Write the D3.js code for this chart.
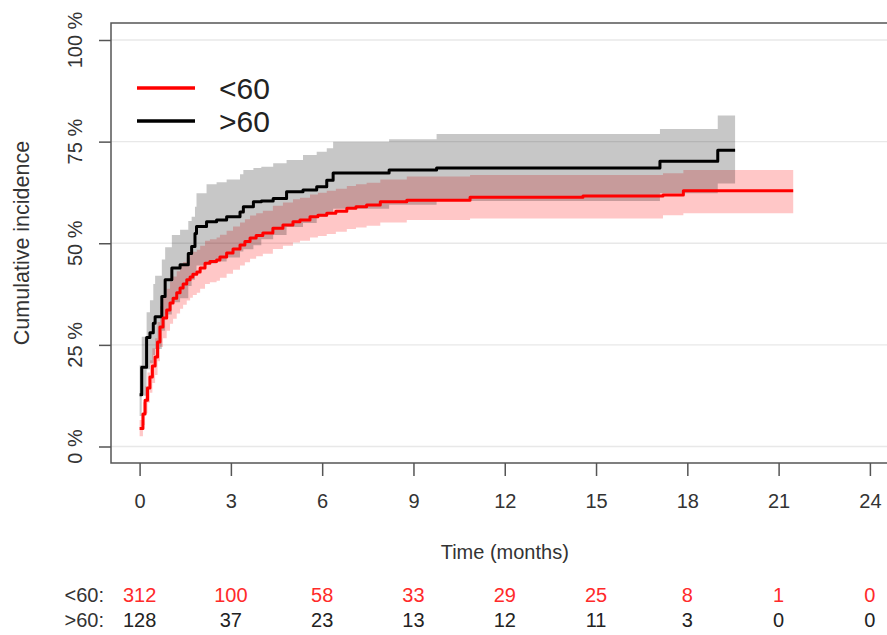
<!DOCTYPE html>
<html>
<head>
<meta charset="utf-8">
<script src="https://cdn.jsdelivr.net/npm/d3@7"></script>
<style>
  html, body { margin: 0; padding: 0; background: #fff; }
  svg { display: block; }
  text { font-family: "Liberation Sans", Arial, sans-serif; }
</style>
</head>
<body>
<svg id="chart" width="887" height="635"></svg>
<script>
// Cumulative incidence by age group, with 95% confidence bands (step functions)
const groups = ["<60", ">60"];
const groupColors = ["#ff0000", "#000000"];
const bandColors = ["rgba(255,0,0,0.22)", "rgba(0,0,0,0.22)"];

// <60 group: event times (months), estimate, lower and upper bound (%)
const youngTime  = [0, 0.11, 0.18, 0.26, 0.34, 0.42, 0.51, 0.59, 0.67, 0.77, 0.89, 1.0, 1.10, 1.22, 1.33, 1.43, 1.55, 1.66, 1.75, 1.88, 1.99, 2.15, 2.31, 2.53, 2.64, 2.86, 3.07, 3.30, 3.46, 3.63, 3.83, 4.05, 4.38, 4.71, 5.04, 5.27, 5.60, 5.86, 6.15, 6.45, 6.81, 7.11, 7.46, 7.91, 8.78, 10.86, 14.57, 17.2, 17.87, 21.48];
const youngEst   = [4.4, 8.0, 11.4, 14.4, 17.1, 19.8, 22.0, 25.7, 29.4, 31.6, 33.6, 35.3, 36.5, 37.8, 39.0, 40.0, 41.0, 41.7, 42.4, 42.9, 43.9, 45.1, 45.5, 45.9, 46.6, 47.6, 48.6, 49.6, 50.4, 51.3, 51.9, 52.5, 53.7, 54.5, 55.3, 55.7, 56.5, 56.9, 57.4, 57.9, 58.6, 59.0, 59.4, 60.2, 60.6, 61.3, 61.6, 61.9, 62.9, 62.9];
const youngLower = [2.5, 5.3, 8.2, 10.8, 13.2, 15.6, 17.6, 21.0, 24.5, 26.6, 28.5, 30.2, 31.4, 32.7, 33.9, 34.9, 35.9, 36.6, 37.3, 37.8, 38.8, 40.0, 40.4, 40.8, 41.5, 42.5, 43.5, 44.5, 45.3, 46.2, 46.8, 47.4, 48.6, 49.4, 50.2, 50.6, 51.4, 51.8, 52.3, 52.8, 53.5, 53.9, 54.3, 55.1, 55.7, 56.1, 56.1, 56.9, 57.4, 57.4];
const youngUpper = [6.5, 10.9, 14.8, 18.2, 21.2, 24.2, 26.6, 30.6, 34.5, 36.8, 38.8, 40.6, 41.8, 43.1, 44.4, 45.4, 46.5, 47.2, 47.9, 48.4, 49.4, 50.6, 51.0, 51.4, 52.1, 53.1, 54.1, 55.1, 55.9, 56.8, 57.4, 58.0, 59.2, 60.0, 60.8, 61.2, 62.0, 62.4, 62.9, 63.4, 64.1, 64.5, 64.9, 65.7, 66.4, 66.8, 66.8, 67.2, 68.0, 68.0];

// >60 group
const oldTime  = [0, 0.07, 0.23, 0.34, 0.45, 0.51, 0.73, 0.84, 1.06, 1.33, 1.60, 1.71, 1.82, 1.87, 2.20, 2.53, 2.86, 3.30, 3.41, 3.74, 4.0, 4.39, 4.83, 5.37, 5.82, 6.15, 6.36, 8.2, 9.76, 17.1, 19.0, 19.57];
const oldEst   = [12.7, 19.5, 26.8, 28.0, 30.3, 31.9, 36.9, 41.0, 43.9, 44.7, 47.5, 49.2, 52.4, 54.1, 55.3, 55.7, 56.5, 57.7, 59.0, 60.2, 60.4, 61.0, 62.7, 63.1, 63.9, 65.5, 67.3, 68.0, 68.5, 70.2, 72.9, 72.9];
const oldLower = [7.5, 12.5, 19.0, 20.5, 22.5, 24.0, 28.5, 32.5, 35.5, 36.5, 39.5, 41.0, 43.0, 44.5, 45.0, 45.5, 46.5, 48.0, 48.5, 49.5, 51.0, 52.0, 54.0, 55.0, 56.5, 57.5, 58.5, 59.5, 60.4, 62.3, 64.7, 64.7];
const oldUpper = [20.0, 27.0, 33.0, 36.0, 40.0, 42.0, 46.0, 49.0, 52.0, 53.3, 55.5, 56.5, 59.0, 62.3, 64.5, 65.0, 65.7, 67.0, 68.0, 68.5, 68.8, 69.7, 70.5, 71.7, 72.5, 73.4, 75.0, 75.6, 76.9, 78.1, 81.4, 81.4];

// Numbers at risk
const riskTimes = [0, 3, 6, 9, 12, 15, 18, 21, 24];
const riskYoung = [312, 100, 58, 33, 29, 25, 8, 1, 0];
const riskOld   = [128, 37, 23, 13, 12, 11, 3, 0, 0];

const yTicks = [0, 25, 50, 75, 100];

const svg = d3.select("#chart");

const x = d3.scaleLinear().domain([0, 24]).range([139.6, 869.9]);
const y = d3.scaleLinear().domain([0, 100]).range([446.5, 40]);

const box = { left: 111, top: 23, right: 900, bottom: 463 };

// horizontal grid
svg.append("g").selectAll("line").data(yTicks).join("line")
  .attr("x1", box.left).attr("x2", box.right)
  .attr("y1", d => y(d)).attr("y2", d => y(d))
  .attr("stroke", "#e8e8e8").attr("stroke-width", 1.3);

function series(time, est, lo, hi) {
  return time.map((t, i) => ({ t, est: est[i], lo: lo[i], hi: hi[i] }));
}
const data = [
  series(youngTime, youngEst, youngLower, youngUpper),
  series(oldTime, oldEst, oldLower, oldUpper)
];

const area = d3.area().curve(d3.curveStepAfter)
  .x(d => x(d.t)).y0(d => y(d.lo)).y1(d => y(d.hi));
const line = d3.line().curve(d3.curveStepAfter)
  .x(d => x(d.t)).y(d => y(d.est));

// confidence bands
data.forEach((s, i) => {
  svg.append("path").attr("d", area(s))
    .attr("fill", bandColors[i]).attr("stroke", "none");
});

// estimate curves (>60 first, <60 on top)
[1, 0].forEach(i => {
  svg.append("path").attr("d", line(data[i]))
    .attr("fill", "none").attr("stroke", groupColors[i])
    .attr("stroke-width", 3).attr("stroke-linejoin", "round");
});

// frame
svg.append("path")
  .attr("d", `M${box.right},${box.top}H${box.left}V${box.bottom}H${box.right}`)
  .attr("fill", "none").attr("stroke", "#555").attr("stroke-width", 1.5);

// x axis
const xAxis = d3.axisBottom(x).tickValues(riskTimes).tickSize(13).tickPadding(18);
const gx = svg.append("g").attr("transform", `translate(0,${box.bottom})`).call(xAxis);
gx.select(".domain").remove();
gx.selectAll(".tick line").attr("stroke", "#555").attr("stroke-width", 1.5);
gx.selectAll(".tick text").attr("fill", "#333").style("font-size", "20px")
  .style("font-family", '"Liberation Sans", Arial, sans-serif');

// y axis
const yAxis = d3.axisLeft(y).tickValues(yTicks).tickSize(12).tickFormat("");
const gy = svg.append("g").attr("transform", `translate(${box.left},0)`).call(yAxis);
gy.select(".domain").remove();
gy.selectAll(".tick line").attr("stroke", "#555").attr("stroke-width", 1.5);

svg.append("g").selectAll("text").data(yTicks).join("text")
  .attr("transform", d => `translate(82,${y(d)}) rotate(-90)`)
  .attr("text-anchor", "middle")
  .attr("fill", "#333").style("font-size", "20px")
  .text(d => d + " %");

// axis titles
svg.append("text")
  .attr("transform", `translate(29,243) rotate(-90)`)
  .attr("text-anchor", "middle").attr("fill", "#333").style("font-size", "21.5px")
  .text("Cumulative incidence");

svg.append("text")
  .attr("x", x(12)).attr("y", 559)
  .attr("text-anchor", "middle").attr("fill", "#333").style("font-size", "20px")
  .text("Time (months)");

// legend
const legend = svg.append("g");
groups.forEach((g, i) => {
  const ly = 88 + i * 33;
  legend.append("line").attr("x1", 137).attr("x2", 195)
    .attr("y1", ly).attr("y2", ly)
    .attr("stroke", groupColors[i]).attr("stroke-width", 3.5);
  legend.append("text").attr("x", 219).attr("y", ly + 11)
    .attr("fill", "#222").style("font-size", "30px").text(g);
});

// numbers at risk
const riskRows = [riskYoung, riskOld];
const riskColors = ["#ff2a2a", "#222"];
riskRows.forEach((row, i) => {
  const ry = 602 + i * 25;
  svg.append("text").attr("x", 104).attr("y", ry)
    .attr("text-anchor", "end").attr("fill", "#333").style("font-size", "20px")
    .text(groups[i] + ":");
  svg.append("g").selectAll("text").data(row).join("text")
    .attr("x", (d, j) => x(riskTimes[j])).attr("y", ry)
    .attr("text-anchor", "middle").attr("fill", riskColors[i])
    .style("font-size", "20px")
    .text(d => d);
});
</script>
</body>
</html>
